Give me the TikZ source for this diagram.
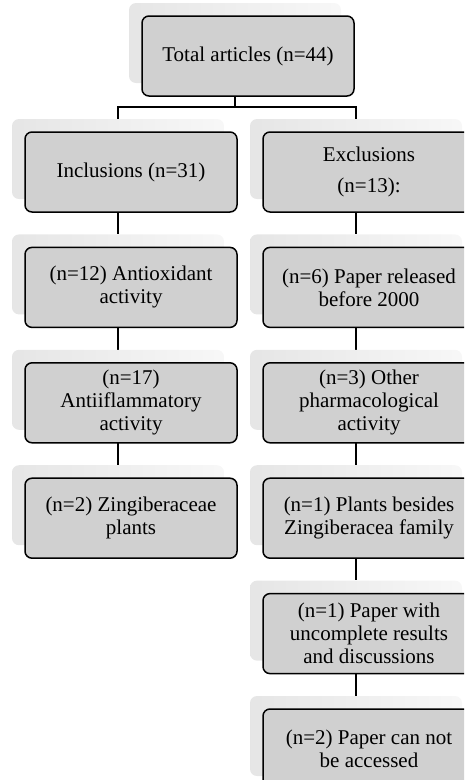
\documentclass[tikz,border=0pt]{standalone}
\usepackage{fontspec}
\setmainfont{Liberation Serif}
\usetikzlibrary{positioning, backgrounds}
\definecolor{boxgray}{RGB}{208, 208, 208}

\tikzset{
    catbox/.style={rectangle, rounded corners=7pt, draw=black, line width=1.5pt, fill=boxgray,
        minimum width=212pt, minimum height=80pt, align=center, inner sep=2pt,
        font=\fontsize{21pt}{23pt}\selectfont},
    glowbox/.style={rectangle, rounded corners=7pt, minimum width=212pt, minimum height=80pt,
        left color=black!10, right color=black!3},
    link/.style={line width=1.5pt, draw=black}
}

\begin{document}
\begin{tikzpicture}
    \clip (0,0) rectangle (464pt,-780pt);

    % soft backing shapes
    \node [glowbox] (tot-bg) at (235pt,-43pt) {};
    \node [glowbox] (inc-bg) at (118pt,-159pt) {};
    \node [glowbox, below=35pt of inc-bg] (anti-bg) {};
    \node [glowbox, below=35pt of anti-bg] (infl-bg) {};
    \node [glowbox, below=35pt of infl-bg] (zing-bg) {};
    \node [glowbox] (exc-bg) at (356pt,-159pt) {};
    \node [glowbox, below=35pt of exc-bg] (old-bg) {};
    \node [glowbox, below=35pt of old-bg] (pharm-bg) {};
    \node [glowbox, below=35pt of pharm-bg] (fam-bg) {};
    \node [glowbox, below=35pt of fam-bg] (incomp-bg) {};
    \node [glowbox, below=35pt of incomp-bg] (access-bg) {};

    % boxes
    \node [catbox] (tot) at ([shift={(13pt,-13pt)}]tot-bg.center) {Total articles (n=44)};
    \node [catbox] (inc) at ([shift={(13pt,-13pt)}]inc-bg.center) {Inclusions (n=31)};
    \node [catbox] (anti) at ([shift={(13pt,-13pt)}]anti-bg.center) {(n=12) Antioxidant\\activity};
    \node [catbox] (infl) at ([shift={(13pt,-13pt)}]infl-bg.center) {(n=17)\\Antiiflammatory\\activity};
    \node [catbox] (zing) at ([shift={(13pt,-13pt)}]zing-bg.center) {(n=2) Zingiberaceae\\plants};
    \node [catbox] (exc) at ([shift={(13pt,-13pt)}]exc-bg.center) {Exclusions\\[8pt](n=13):};
    \node [catbox] (old) at ([shift={(13pt,-13pt)}]old-bg.center) {(n=6) Paper released\\before 2000};
    \node [catbox] (pharm) at ([shift={(13pt,-13pt)}]pharm-bg.center) {(n=3) Other\\pharmacological\\activity};
    \node [catbox] (fam) at ([shift={(13pt,-13pt)}]fam-bg.center) {(n=1) Plants besides\\Zingiberacea family};
    \node [catbox] (incomp) at ([shift={(13pt,-13pt)}]incomp-bg.center) {(n=1) Paper with\\uncomplete results\\and discussions};
    \node [catbox] (access) at ([shift={(13pt,-13pt)}]access-bg.center) {(n=2) Paper can not\\be accessed};

    \begin{pgfonlayer}{background}
        \draw [link] (tot-bg.south) -- ++(0,-24pt) coordinate (fork);
        \draw [link] (fork) -| (inc-bg.north);
        \draw [link] (fork) -| (exc-bg.north);
        \draw [link] (inc-bg.south) -- (anti-bg.north);
        \draw [link] (anti-bg.south) -- (infl-bg.north);
        \draw [link] (infl-bg.south) -- (zing-bg.north);
        \draw [link] (exc-bg.south) -- (old-bg.north);
        \draw [link] (old-bg.south) -- (pharm-bg.north);
        \draw [link] (pharm-bg.south) -- (fam-bg.north);
        \draw [link] (fam-bg.south) -- (incomp-bg.north);
        \draw [link] (incomp-bg.south) -- (access-bg.north);
    \end{pgfonlayer}
\end{tikzpicture}
\end{document}
